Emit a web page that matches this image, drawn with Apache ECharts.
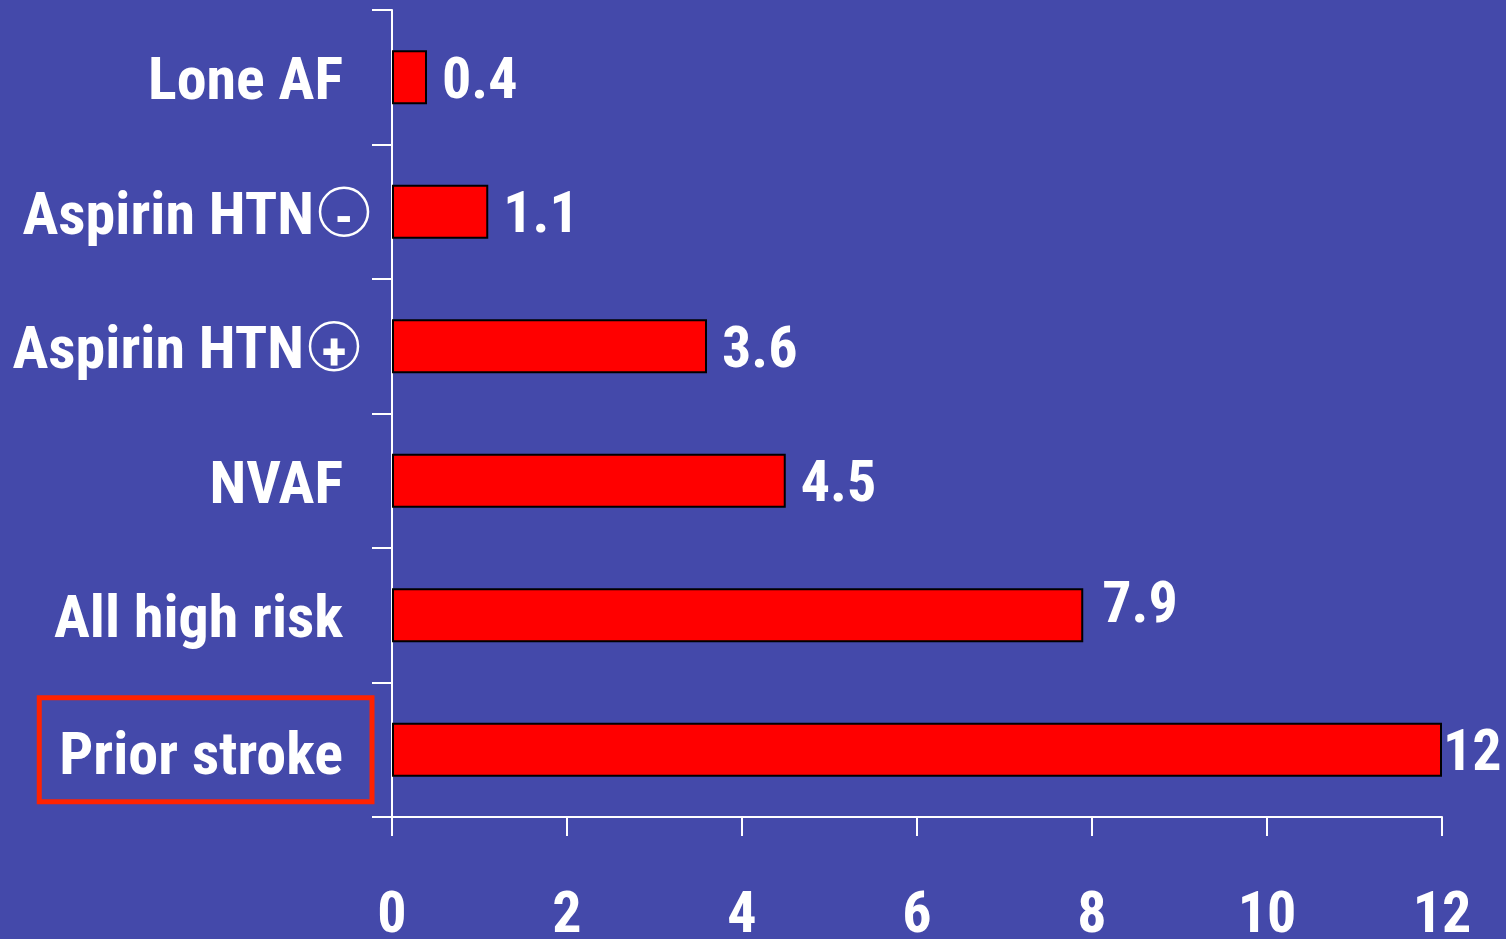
<!DOCTYPE html>
<html>
<head>
<meta charset="utf-8">
<style>
  html, body { margin: 0; padding: 0; background: #4449AA; }
  #chart { width: 1506px; height: 939px; }
</style>
<script src="https://cdn.jsdelivr.net/npm/echarts@6/dist/echarts.min.js"></script>
</head>
<body>
<div id="chart"></div>
<script>
// Annual stroke rate (%) by patient group
const categories = ['Lone AF', 'Aspirin HTN⊖', 'Aspirin HTN⊕', 'NVAF', 'All high risk', 'Prior stroke'];
const strokeRates = [0.4, 1.1, 3.6, 4.5, 7.9, 12];
const xTicks = [0, 2, 4, 6, 8, 10, 12];
const highlighted = 'Prior stroke';

const FONT = "'Roboto Condensed', 'Liberation Sans Narrow', 'Arial Narrow', sans-serif";
const WHITE = '#ffffff';

// Category text, with a circled sign drawn as a bordered rich-text token
function categoryLabel(v) {
  if (v === highlighted) return '{box|' + v + '}';
  const m = v.match(/^(.*)([⊖⊕])$/);
  if (m) {
    const sign = m[2] === '⊖' ? '-' : '+';
    const gap = m[2] === '⊖' ? 'g1' : 'g2';
    return '{t|' + m[1] + '}{c|' + sign + '}{' + gap + '| }';
  }
  return '{n|' + v + '}';
}

// Value labels sit just right of each bar; the longest bar's label hugs its end
function valueLabel(v) {
  const max = Math.max.apply(null, strokeRates);
  if (v === max) return { distance: 1, offset: [0, 6] };
  if (v > 0.6 * max) return { distance: 19, offset: [0, -8] };
  return { distance: 15, offset: [0, 6] };
}

const chart = echarts.init(document.getElementById('chart'), null, { renderer: 'canvas' });

chart.setOption({
  backgroundColor: '#4449AA',
  animation: false,
  grid: { left: 392, right: 64, top: 10, bottom: 122, containLabel: false, outerBoundsMode: 'none' },
  xAxis: {
    type: 'value',
    min: xTicks[0],
    max: xTicks[xTicks.length - 1],
    interval: xTicks[1] - xTicks[0],
    splitLine: { show: false },
    axisLine: { show: true, lineStyle: { color: WHITE, width: 2 } },
    axisTick: { show: true, length: 19, lineStyle: { color: WHITE, width: 2 } },
    axisLabel: {
      margin: 71,
      color: WHITE,
      fontFamily: FONT,
      fontWeight: 'bold',
      fontSize: 58
    }
  },
  yAxis: {
    type: 'category',
    inverse: true,
    data: categories,
    axisLine: { show: true, lineStyle: { color: WHITE, width: 2 } },
    axisTick: { show: true, length: 20, lineStyle: { color: WHITE, width: 2 } },
    axisLabel: {
      margin: 20,
      color: WHITE,
      fontFamily: FONT,
      fontWeight: 'bold',
      fontSize: 60,
      formatter: categoryLabel,
      rich: {
        n: { fontFamily: FONT, fontWeight: 'bold', fontSize: 60, color: WHITE, padding: [14, 29, 0, 0] },
        t: { fontFamily: FONT, fontWeight: 'bold', fontSize: 60, color: WHITE, padding: [14, 6, 0, 0] },
        c: {
          fontFamily: FONT, fontWeight: 'bold', fontSize: 52, color: WHITE,
          width: 48, height: 28, lineHeight: 28, padding: [20, 0, 0, 0], align: 'center',
          borderColor: WHITE, borderWidth: 2.5, borderRadius: 25
        },
        g1: { width: 4, fontSize: 10 },
        g2: { width: 14, fontSize: 10 },
        box: {
          fontFamily: FONT, fontWeight: 'bold', fontSize: 60, color: WHITE,
          lineHeight: 60, padding: [31, 29, 13, 20],
          borderColor: '#FF2200', borderWidth: 5
        }
      }
    }
  },
  series: [{
    type: 'bar',
    data: strokeRates.map(function (v) {
      return { value: v, label: valueLabel(v) };
    }),
    barWidth: 54,
    itemStyle: { color: '#FF0000', borderColor: '#000000', borderWidth: 2 },
    label: {
      show: true,
      position: 'right',
      color: WHITE,
      fontFamily: FONT,
      fontWeight: 'bold',
      fontSize: 58
    }
  }]
});
</script>
</body>
</html>
